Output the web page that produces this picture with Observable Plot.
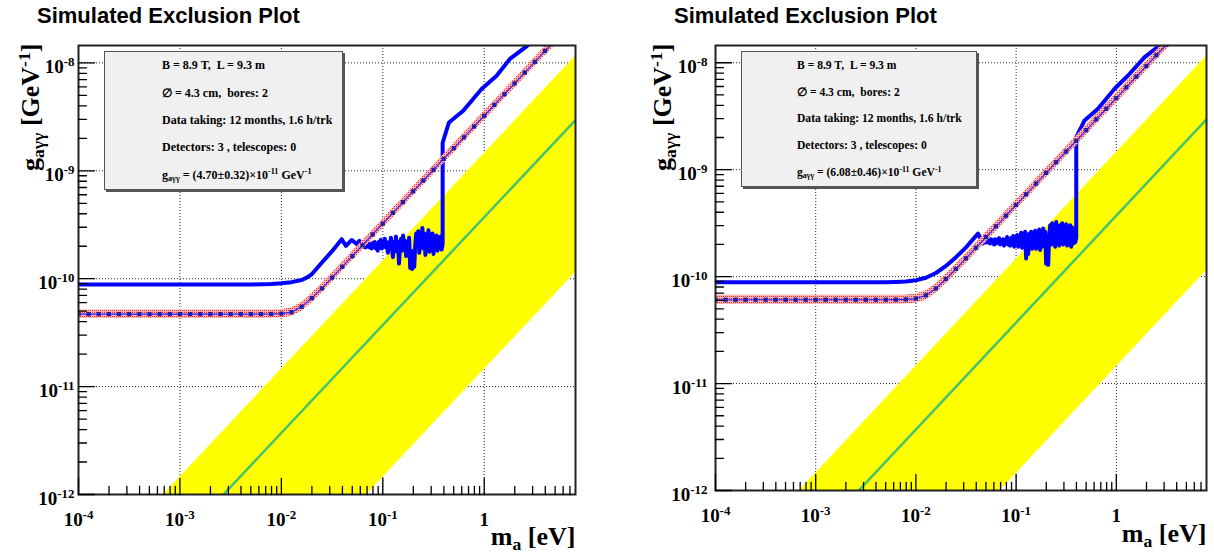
<!DOCTYPE html>
<html><head><meta charset="utf-8">
<script src="https://cdn.jsdelivr.net/npm/d3@7"></script>
<script src="https://cdn.jsdelivr.net/npm/@observablehq/plot@0.6"></script>
<style>
html,body{margin:0;padding:0;background:#fff;}
#wrap{position:relative;width:1214px;height:555px;overflow:hidden;background:#fff;}
.panel{position:absolute;top:0;}
.title{position:absolute;top:5px;font:bold 22px "Liberation Sans",Arial,sans-serif;line-height:22px;white-space:nowrap;color:#000;}
.pave{position:absolute;box-sizing:border-box;background:#f0f0f0;border:1px solid #555;box-shadow:2px 2px 0 #555;display:flex;flex-direction:column;font-family:"Liberation Serif","Times New Roman",serif;font-weight:bold;color:#000;}
.pave div{flex:1;display:flex;align-items:center;white-space:pre;}
.pave .sub{font-size:0.68em;position:relative;top:0.35em;}
.pave .sup{font-size:0.68em;position:relative;top:-0.45em;}
</style></head><body><div id="wrap"></div>
<script>
// ---------- axes ----------
const xDomain = [1e-4, 7.94];
const yDomain = [1e-12, 1.45e-8];
const xTicks = [1e-4, 1e-3, 1e-2, 1e-1, 1];
const xTickLabels = ["10^{-4}", "10^{-3}", "10^{-2}", "10^{-1}", "1"];
const yTicks = [1e-12, 1e-11, 1e-10, 1e-9, 1e-8];
const yTickLabels = ["10^{-12}", "10^{-11}", "10^{-10}", "10^{-9}", "10^{-8}"];
const titleText = "Simulated Exclusion Plot";
const xTitle = "m_{a} [eV]";
const yTitle = "g_{aγγ} [GeV^{-1}]";

// ---------- QCD axion band (g = const * m) ----------
const bandMass = [1e-5, 20];
const bandLow = [1.44e-16, 2.88e-10];
const bandHigh = [1.45e-14, 2.9e-8];
const ksvzLine = [3.72e-15, 7.44e-9];

// ---------- expected sensitivity (median), log10 g at log10 m ----------
const medianLogMass = [-4.0,-3.9,-3.8,-3.7,-3.6,-3.5,-3.4,-3.3,-3.2,-3.1,-3.0,-2.9,-2.8,-2.7,-2.6,-2.5,-2.4,
  -2.3,-2.2,-2.1,-2.0,-1.9,-1.8,-1.7,-1.6,-1.5,-1.4,-1.3,-1.2,-1.1,-1.0,-0.9,-0.8,-0.7,-0.6,-0.5,-0.4,-0.3,-0.2,-0.1,0.0,0.1,0.2,0.3,0.4,0.5,0.6,0.7];
const medianLeftLogG = [-10.328,-10.328,-10.328,-10.328,-10.328,-10.328,-10.328,-10.328,-10.328,-10.328,-10.328,-10.328,-10.328,-10.328,-10.328,-10.328,-10.328,
  -10.328,-10.328,-10.327,-10.324,-10.310,-10.260,-10.180,-10.090,-9.990,-9.890,-9.790,-9.690,-9.590,-9.490,-9.390,-9.290,-9.190,-9.090,-8.990,-8.890,-8.790,-8.690,-8.590,-8.490,-8.390,-8.290,-8.190,-8.090,-7.990,-7.890,-7.790];
const medianRightLogG = [-10.216,-10.216,-10.216,-10.216,-10.216,-10.216,-10.216,-10.216,-10.216,-10.216,-10.216,-10.216,-10.216,-10.216,-10.216,-10.216,-10.216,
  -10.216,-10.215,-10.213,-10.205,-10.175,-10.110,-10.022,-9.928,-9.829,-9.730,-9.630,-9.530,-9.430,-9.330,-9.230,-9.130,-9.030,-8.930,-8.830,-8.730,-8.630,-8.530,-8.430,-8.330,-8.230,-8.130,-8.030,-7.930,-7.830,-7.730,-7.630];
const gLeft = 4.70, errLeft = 0.32;
const gRight = 6.08, errRight = 0.46;

// ---------- simulated exclusion (blue), [log10 m, log10 g] ----------
const obsLeft = [
[-4.0,-10.053],[-2.3,-10.053],[-2.1,-10.050],[-2.0,-10.043],[-1.9,-10.032],[-1.8,-10.012],[-1.75,-9.990],[-1.7,-9.959],[-1.6,-9.850],[-1.5,-9.745],[-1.405,-9.634],[-1.363,-9.696],[-1.306,-9.641],[-1.257,-9.678],[-1.23,-9.650],[-1.21,-9.690],
[-1.20,-9.67],[-1.19,-9.70],[-1.18,-9.68],[-1.17,-9.71],[-1.16,-9.69],[-1.15,-9.70],[-1.14,-9.67],[-1.13,-9.71],[-1.12,-9.69],[-1.11,-9.72],[-1.10,-9.67],
[-1.09,-9.70],[-1.08,-9.66],[-1.07,-9.72],[-1.06,-9.69],[-1.05,-9.74],[-1.04,-9.66],[-1.03,-9.69],[-1.02,-9.64],[-1.01,-9.72],[-1.00,-9.68],[-0.99,-9.70],[-0.98,-9.63],[-0.97,-9.71],[-0.96,-9.67],[-0.95,-9.76],[-0.94,-9.66],[-0.93,-9.70],[-0.92,-9.62],
[-0.91,-9.72],[-0.90,-9.80],[-0.89,-9.66],[-0.88,-9.71],[-0.87,-9.61],[-0.86,-9.75],[-0.85,-9.66],[-0.84,-9.86],[-0.83,-9.71],[-0.82,-9.63],[-0.81,-9.74],[-0.80,-9.60],[-0.79,-9.70],[-0.78,-9.65],[-0.77,-9.79],[-0.76,-9.68],[-0.75,-9.73],[-0.74,-9.62],
[-0.73,-9.90],[-0.72,-9.74],[-0.71,-9.91],[-0.70,-9.80],[-0.69,-9.89],[-0.68,-9.68],
[-0.67,-9.58],[-0.66,-9.70],[-0.65,-9.56],[-0.64,-9.76],[-0.63,-9.60],[-0.62,-9.69],[-0.61,-9.53],[-0.60,-9.72],[-0.59,-9.58],[-0.58,-9.78],[-0.57,-9.61],[-0.56,-9.70],[-0.55,-9.55],[-0.54,-9.75],[-0.53,-9.60],[-0.52,-9.72],[-0.51,-9.58],[-0.50,-9.77],[-0.49,-9.62],[-0.48,-9.70],[-0.47,-9.60],[-0.46,-9.74],[-0.45,-9.62],[-0.44,-9.71],[-0.43,-9.61],[-0.42,-9.73],[-0.41,-9.68],
[-0.41,-8.74],[-0.348,-8.552],[-0.207,-8.443],[-0.026,-8.241],[0.122,-8.118],[0.253,-7.963],[0.418,-7.846],[0.6,-7.68]
];
const obsRight = [
[-4.0,-10.053],[-2.3,-10.053],[-2.2,-10.050],[-2.1,-10.045],[-2.0,-10.034],[-1.9,-10.010],[-1.8,-9.966],[-1.7,-9.900],[-1.6,-9.818],[-1.5,-9.726],[-1.42,-9.64],[-1.38,-9.598],[-1.33,-9.69],[-1.31,-9.67],
[-1.30,-9.68],[-1.29,-9.65],[-1.28,-9.68],[-1.27,-9.66],[-1.26,-9.69],[-1.25,-9.65],[-1.24,-9.68],[-1.23,-9.66],[-1.22,-9.70],[-1.21,-9.65],[-1.20,-9.69],[-1.19,-9.66],[-1.18,-9.68],[-1.17,-9.64],[-1.16,-9.70],[-1.15,-9.66],[-1.14,-9.69],[-1.13,-9.65],[-1.12,-9.71],[-1.11,-9.67],[-1.10,-9.69],[-1.09,-9.63],[-1.08,-9.70],[-1.07,-9.66],[-1.06,-9.71],[-1.05,-9.64],[-1.04,-9.69],[-1.03,-9.62],[-1.02,-9.72],[-1.01,-9.65],[-1.00,-9.69],[-0.99,-9.61],[-0.98,-9.72],[-0.97,-9.64],[-0.96,-9.70],[-0.95,-9.59],[-0.94,-9.73],[-0.93,-9.62],[-0.92,-9.70],[-0.91,-9.58],[-0.90,-9.83],[-0.89,-9.64],[-0.88,-9.79],[-0.87,-9.60],[-0.86,-9.72],[-0.85,-9.58],[-0.84,-9.74],[-0.83,-9.61],[-0.82,-9.70],[-0.81,-9.57],[-0.80,-9.74],[-0.79,-9.60],[-0.78,-9.71],[-0.77,-9.56],[-0.76,-9.75],[-0.75,-9.59],[-0.74,-9.72],[-0.73,-9.55],[-0.72,-9.70],[-0.71,-9.58],[-0.70,-9.88],[-0.69,-9.71],[-0.68,-9.89],[-0.67,-9.62],[-0.66,-9.52],[-0.65,-9.70],[-0.64,-9.50],[-0.63,-9.68],[-0.62,-9.54],[-0.61,-9.72],[-0.60,-9.49],[-0.59,-9.67],[-0.58,-9.53],[-0.57,-9.71],[-0.56,-9.52],[-0.55,-9.66],[-0.54,-9.50],[-0.53,-9.70],[-0.52,-9.54],[-0.51,-9.68],[-0.50,-9.51],[-0.49,-9.71],[-0.48,-9.55],[-0.47,-9.67],[-0.46,-9.52],[-0.45,-9.72],[-0.44,-9.54],[-0.43,-9.69],[-0.42,-9.57],[-0.41,-9.68],[-0.40,-9.64],
[-0.40,-8.695],[-0.317,-8.539],[-0.183,-8.430],[-0.017,-8.243],[0.117,-8.119],[0.283,-7.948],[0.433,-7.838],[0.6,-7.68]
];

// ---------- legend text ----------
const legendLeft = ["B = 8.9 T,  L = 9.3 m", "∅ = 4.3 cm,  bores: 2", "Data taking: 12 months, 1.6 h/trk", "Detectors: 3 , telescopes: 0", "g_{aγγ} = (4.70±0.32)×10^{-11} GeV^{-1}"];
const legendRight = ["B = 8.9 T,  L = 9.3 m", "∅ = 4.3 cm,  bores: 2", "Data taking: 12 months, 1.6 h/trk", "Detectors: 3 , telescopes: 0", "g_{aγγ} = (6.08±0.46)×10^{-11} GeV^{-1}"];

const SERIF = '"Liberation Serif","Times New Roman",serif';

function parseRich(s) {
  const out = []; let buf = ""; let i = 0;
  while (i < s.length) {
    if ((s[i] === "^" || s[i] === "_") && s[i + 1] === "{") {
      if (buf) { out.push({t: buf, m: 0}); buf = ""; }
      const mode = s[i] === "^" ? 1 : -1;
      const j = s.indexOf("}", i + 2);
      out.push({t: s.slice(i + 2, j), m: mode});
      i = j + 1;
    } else { buf += s[i]; i++; }
  }
  if (buf) out.push({t: buf, m: 0});
  return out;
}
function richHtml(s) {
  return parseRich(s).map(p => {
    const t = p.t.replace(/&/g, "&amp;").replace(/</g, "&lt;");
    return p.m === 1 ? `<span class="sup">${t}</span>` : p.m === -1 ? `<span class="sub">${t}</span>` : t;
  }).join("");
}
function richSvg(svg) {
  svg.querySelectorAll("text").forEach(t => {
    const s = t.textContent;
    if (!/[_^]\{/.test(s)) return;
    const parts = parseRich(s);
    while (t.firstChild) t.removeChild(t.firstChild);
    let cur = 0;
    for (const p of parts) {
      const size = p.m ? 0.68 : 1;
      const target = p.m === 1 ? 0.34 : p.m === -1 ? -0.2 : 0;
      const ts = document.createElementNS("http://www.w3.org/2000/svg", "tspan");
      if (p.m) ts.setAttribute("font-size", size + "em");
      const shift = target - cur;
      if (shift) ts.setAttribute("dy", (-shift / size).toFixed(3) + "em");
      cur = target;
      ts.textContent = p.t;
      t.appendChild(ts);
    }
  });
}

const tickShape = {draw(context, l) { context.moveTo(0, 0); context.lineTo(0, -l); }};
const isMajor = v => Math.abs(Math.log10(v) - Math.round(Math.log10(v))) < 1e-6;
const minorX = d3.scaleLog().domain(xDomain).ticks().filter(v => !isMajor(v));
const minorY = d3.scaleLog().domain(yDomain).ticks().filter(v => !isMajor(v));

function makePanel(cfg) {
  const obs = cfg.obs.map(([lm, lg]) => ({m: 10 ** lm, g: 10 ** lg}));
  const med = medianLogMass.map((lm, i) => ({m: 10 ** lm, g: 10 ** cfg.median[i]}));
  const rel = cfg.err / cfg.gval;
  const band = bandMass.map((m, i) => ({m, lo: bandLow[i], hi: bandHigh[i], mid: ksvzLine[i]}));
  const txt = {fontWeight: "bold", fontFamily: SERIF, fill: "#000"};
  const hatch = `url(#hatch${cfg.id})`;
  const svg = Plot.plot({
    width: cfg.width, height: 555,
    marginLeft: cfg.mL, marginRight: cfg.mR, marginTop: cfg.mT, marginBottom: cfg.mB,
    x: {type: "log", domain: xDomain, axis: null},
    y: {type: "log", domain: yDomain, axis: null},
    marks: [
      Plot.gridX(xTicks.slice(1), {stroke: "#000", strokeOpacity: 0.85, strokeDasharray: "1,2", strokeWidth: 1}),
      Plot.gridY(yTicks.slice(1), {stroke: "#000", strokeOpacity: 0.85, strokeDasharray: "1,2", strokeWidth: 1}),
      Plot.areaY(band, {x: "m", y1: "lo", y2: "hi", fill: "#ffff00", clip: true}),
      Plot.line(band, {x: "m", y: "mid", stroke: "#45c46c", strokeWidth: 2.5, clip: true}),
      Plot.line(obs, {x: "m", y: "g", stroke: "#0000ff", strokeWidth: 4, strokeLinejoin: "round", clip: true}),
      Plot.areaY(med, {x: "m", y1: d => d.g * (1 - rel), y2: d => d.g * (1 + rel), fill: hatch, stroke: hatch, strokeWidth: 2, clip: true}),
      Plot.line(med, {x: "m", y: "g", stroke: "#2a2aff", strokeWidth: 1.2, clip: true}),
      Plot.dot(med, {x: "m", y: "g", symbol: "square", r: 2.4, fill: "#2020a8", clip: true}),
      Plot.frame({stroke: "#222", strokeWidth: 2}),
      Plot.vector(minorX, {x: d => d, frameAnchor: "bottom", length: 8, rotate: 0, anchor: "start", shape: tickShape, stroke: "#000", strokeWidth: 1.3}),
      Plot.vector(xTicks, {x: d => d, frameAnchor: "bottom", length: 16, rotate: 0, anchor: "start", shape: tickShape, stroke: "#000", strokeWidth: 1.3}),
      Plot.vector(minorY, {y: d => d, frameAnchor: "left", length: 8, rotate: 90, anchor: "start", shape: tickShape, stroke: "#000", strokeWidth: 1.3}),
      Plot.vector(yTicks, {y: d => d, frameAnchor: "left", length: 16, rotate: 90, anchor: "start", shape: tickShape, stroke: "#000", strokeWidth: 1.3}),
      Plot.text(xTicks, {x: d => d, text: (d, i) => xTickLabels[i], frameAnchor: "bottom", textAnchor: "middle", lineAnchor: "bottom", dy: 31, fontSize: 19, ...txt}),
      Plot.text(yTicks, {y: d => d, text: (d, i) => yTickLabels[i], frameAnchor: "left", textAnchor: "end", lineAnchor: "bottom", dx: cfg.yLabDx, dy: 10, fontSize: 19, ...txt}),
      Plot.text([xTitle], {frameAnchor: "bottom-right", textAnchor: "end", lineAnchor: "bottom", dy: cfg.xTitleDy, fontSize: 26, ...txt}),
      Plot.text([yTitle], {frameAnchor: "top-left", textAnchor: "end", lineAnchor: "bottom", rotate: -90, dx: cfg.yTitleDx, dy: -2, fontSize: 26, ...txt})
    ]
  });
  const defs = d3.select(svg).insert("defs", ":first-child");
  const pat = defs.append("pattern").attr("id", `hatch${cfg.id}`).attr("width", 2).attr("height", 2).attr("patternUnits", "userSpaceOnUse");
  pat.append("rect").attr("width", 2).attr("height", 2).attr("fill", "#ffb4b4");
  pat.append("rect").attr("width", 1).attr("height", 1).attr("fill", "#ff2a2a");
  richSvg(svg);
  const holder = document.createElement("div");
  holder.className = "panel";
  holder.style.left = cfg.left + "px";
  holder.style.width = cfg.width + "px";
  holder.appendChild(svg);
  document.getElementById("wrap").appendChild(holder);

  const title = document.createElement("div");
  title.className = "title";
  title.style.left = cfg.titleX + "px";
  title.textContent = titleText;
  document.getElementById("wrap").appendChild(title);

  const pave = document.createElement("div");
  pave.className = "pave";
  Object.assign(pave.style, {left: cfg.box[0] + "px", top: cfg.box[1] + "px", width: cfg.box[2] + "px", height: cfg.box[3] + "px", paddingLeft: cfg.box[4] + "px", fontSize: cfg.box[5] + "px"});
  pave.innerHTML = cfg.legend.map(l => `<div>${richHtml(l)}</div>`).join("");
  document.getElementById("wrap").appendChild(pave);
}

makePanel({id: "L", left: 0, width: 607, mL: 78, mR: 32, mT: 45, mB: 61, yLabDx: -4, yTitleDx: -40, xTitleDy: 50,
  obs: obsLeft, median: medianLeftLogG, gval: gLeft, err: errLeft, legend: legendLeft, titleX: 37,
  box: [104, 51, 239, 139, 57, 12]});
makePanel({id: "R", left: 607, width: 607, mL: 108, mR: 8, mT: 45, mB: 65, yLabDx: -8, yTitleDx: -45, xTitleDy: 51,
  obs: obsRight, median: medianRightLogG, gval: gRight, err: errRight, legend: legendRight, titleX: 674,
  box: [741, 51, 236, 136, 55, 11.6]});
</script></body></html>
